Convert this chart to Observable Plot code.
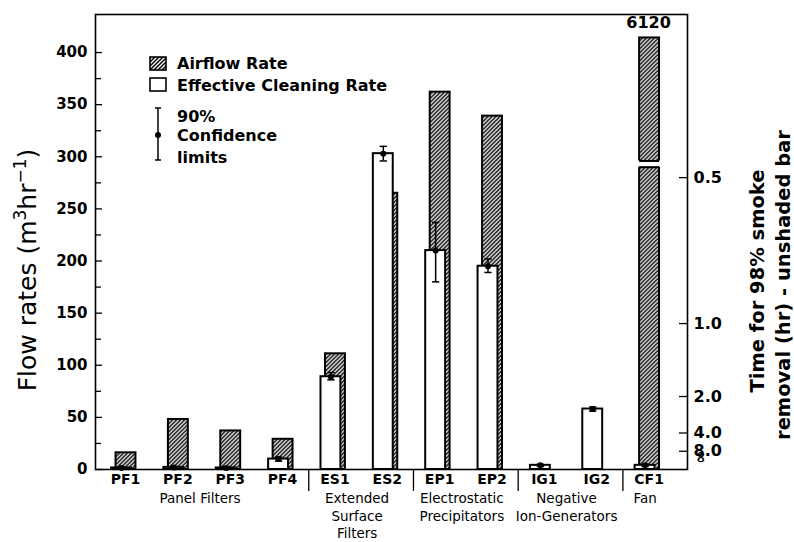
<!DOCTYPE html>
<html><head><meta charset="utf-8">
<script src="https://cdn.jsdelivr.net/npm/d3@7"></script>
<script src="https://cdn.jsdelivr.net/npm/@observablehq/plot@0.6"></script>
<style>
body{margin:0;background:#fff;}
#chart svg{display:block;}
</style></head><body><div id="chart"></div>
<script>
// ---- data ----
const categories = ["PF1","PF2","PF3","PF4","ES1","ES2","EP1","EP2","IG1","IG2","CF1"];
const airflowRate = [16, 48, 37, 29, 111, 265, 362, 339, 0, 0, 6120];
const cleaningRate = [1.5, 2, 1.5, 10, 89, 303, 210, 195, 4, 58, 4];
const ciLow = [0.5, 1, 0.5, 8, 86, 296, 180, 189, 3, 56, 3];
const ciHigh = [2.5, 3, 2.5, 12, 93, 310, 237, 202, 5, 60, 5];
const groupLabels = ["Panel Filters", "Extended\nSurface\nFilters", "Electrostatic\nPrecipitators", "Negative\nIon-Generators", "Fan"];
const groupFirst = [0, 4, 6, 8, 10];
const groupLast = [3, 5, 7, 9, 10];
const yTicks = [0, 50, 100, 150, 200, 250, 300, 350, 400];
const yMinorTicks = [25, 75, 125, 175, 225, 275, 325, 375];
const removalTimes = [0.5, 1, 2, 4, 8];      // hr, right axis
const removalConstant = 140;                // flow rate x time for 98% removal (m3)
const brokenAxisTop = 414;                  // value where the off-scale bar is cut
const breakLow = 290, breakHigh = 296;      // gap drawn in the off-scale bar

// ---- layout ----
const W = 794, H = 542;
const mL = 95, mR = 107, mT = 14, mB = 73;
const hw = 0.19;      // half bar width, in category units
const hatchShift = 4.5;
const FONT = "DejaVu Sans";

const rows = categories.map((c, i) => ({i, c, air: airflowRate[i], clean: cleaningRate[i], lo: ciLow[i], hi: ciHigh[i]}));
const groups = groupLabels.map((g, k) => ({g, mid: (groupFirst[k] + groupLast[k]) / 2}));
const separators = groupLast.slice(0, -1).map(i => i + 0.5);
const broken = rows.filter(d => d.air > brokenAxisTop);

const defs = () => {
  const g = d3.create("svg:defs");
  const p = g.append("pattern").attr("id", "hatch").attr("patternUnits", "userSpaceOnUse")
    .attr("width", 4).attr("height", 4);
  p.append("rect").attr("width", 4).attr("height", 4).attr("fill", "white");
  p.append("path").attr("d", "M-1,1 l2,-2 M0,4 l4,-4 M3,5 l2,-2")
    .attr("stroke", "black").attr("stroke-width", 1.5);
  return g.node();
};

const chart = Plot.plot({
  width: W, height: H,
  marginLeft: mL, marginRight: mR, marginTop: mT, marginBottom: mB,
  style: {fontFamily: FONT, background: "white", color: "black", overflow: "visible"},
  x: {type: "linear", domain: [-0.4966, 10.81]},
  y: {domain: [0, 436.5]},
  marks: [
    defs,
    // airflow (hatched) bars
    Plot.rect(rows.filter(d => d.air > 0), {
      x1: d => d.i - hw, x2: d => d.i + hw, y1: 0, y2: d => Math.min(d.air, brokenAxisTop),
      dx: hatchShift, fill: "url(#hatch)", stroke: "black", strokeWidth: 2
    }),
    // break in the off-scale bar
    Plot.rect(broken, {
      x1: d => d.i - hw - 0.06, x2: d => d.i + hw + 0.06, y1: breakLow, y2: breakHigh,
      dx: hatchShift, fill: "white"
    }),
    Plot.ruleY(broken.flatMap(d => [{i: d.i, y: breakLow}, {i: d.i, y: breakHigh}]), {
      y: "y", x1: d => d.i - hw, x2: d => d.i + hw, dx: hatchShift, strokeWidth: 2
    }),
    Plot.text(broken, {
      x: "i", y: brokenAxisTop, text: d => String(d.air), dx: hatchShift - 1, dy: -15,
      fontSize: 16, fontWeight: "bold"
    }),
    // effective cleaning (white) bars
    Plot.rect(rows, {
      x1: d => d.i - hw, x2: d => d.i + hw, y1: 0, y2: "clean",
      fill: "white", stroke: "black", strokeWidth: 2
    }),
    // 90% confidence limits
    Plot.ruleX(rows, {x: "i", y1: "lo", y2: "hi", strokeWidth: 1.5}),
    Plot.link(rows, {x1: d => d.i - 0.07, x2: d => d.i + 0.07, y1: "hi", y2: "hi", strokeWidth: 1.5}),
    Plot.link(rows, {x1: d => d.i - 0.07, x2: d => d.i + 0.07, y1: "lo", y2: "lo", strokeWidth: 1.5}),
    Plot.dot(rows, {x: "i", y: "clean", r: 3, fill: "black"}),
    // frame and ticks
    Plot.frame({strokeWidth: 1.6}),
    Plot.ruleY(yTicks, {y: d => d, insetRight: W - mL - mR - 7, strokeWidth: 1.3}),
    Plot.ruleY(yMinorTicks, {y: d => d, insetRight: W - mL - mR - 6, strokeWidth: 1.3}),
    Plot.axisY(yTicks, {anchor: "left", tickSize: 0, tickPadding: 8, fontSize: 15, fontWeight: "bold", label: null}),
    Plot.ruleY(removalTimes, {y: t => removalConstant / t, insetLeft: W - mL - mR - 8, strokeWidth: 1.3}),
    Plot.text(removalTimes, {
      y: t => removalConstant / t, text: t => t.toFixed(1), frameAnchor: "right", dx: 6,
      textAnchor: "start", fontSize: 16, fontWeight: "bold"
    }),
    Plot.text(["∞"], {y: 0, text: d => d, frameAnchor: "right", dx: 14, dy: -6, rotate: 90, fontSize: 16, fontWeight: "bold"}),
    // category axis
    Plot.axisX(rows.map(d => d.i), {
      anchor: "bottom", tickSize: 0, tickPadding: 5, dx: 4, tickFormat: i => categories[i],
      fontSize: 14, fontWeight: "bold", label: null
    }),
    Plot.ruleX(separators, {x: d => d, y1: 0, y2: -21, dx: 4, strokeWidth: 1.3}),
    Plot.text(groups, {
      x: "mid", text: "g", frameAnchor: "bottom", dy: 21, lineAnchor: "top",
      lineHeight: 1.3, fontSize: 13.5
    })
  ]
});

const svg = d3.select(chart);
// legend
const lg = svg.append("g").attr("font-family", FONT).attr("font-weight", "bold").attr("font-size", 16)
  .attr("text-anchor", "start");
lg.append("rect").attr("x", 150).attr("y", 57).attr("width", 16).attr("height", 13)
  .attr("fill", "url(#hatch)").attr("stroke", "black").attr("stroke-width", 1.6);
lg.append("text").attr("x", 177).attr("y", 63.5).attr("dy", "0.35em").text("Airflow Rate");
lg.append("rect").attr("x", 150).attr("y", 78).attr("width", 16).attr("height", 13)
  .attr("fill", "white").attr("stroke", "black").attr("stroke-width", 1.6);
lg.append("text").attr("x", 177).attr("y", 85).attr("dy", "0.35em").text("Effective Cleaning Rate");
lg.append("line").attr("x1", 158).attr("x2", 158).attr("y1", 108).attr("y2", 160).attr("stroke", "black").attr("stroke-width", 1.5);
lg.append("line").attr("x1", 155).attr("x2", 161).attr("y1", 108).attr("y2", 108).attr("stroke", "black").attr("stroke-width", 1.5);
lg.append("line").attr("x1", 155).attr("x2", 161).attr("y1", 160).attr("y2", 160).attr("stroke", "black").attr("stroke-width", 1.5);
lg.append("circle").attr("cx", 158).attr("cy", 135).attr("r", 3).attr("fill", "black");
[["90%", 116], ["Confidence", 135], ["limits", 157]].forEach(([t, y]) =>
  lg.append("text").attr("x", 177).attr("y", y).attr("dy", "0.35em").text(t));

// left axis title
const lt = svg.append("text").attr("font-family", FONT).attr("font-size", 25)
  .attr("text-anchor", "middle").attr("transform", "translate(27,270) rotate(-90)").attr("dy", "0.35em");
lt.append("tspan").text("Flow rates (m");
lt.append("tspan").attr("baseline-shift", "super").attr("font-size", 17).text("3");
lt.append("tspan").text("hr");
lt.append("tspan").attr("baseline-shift", "super").attr("font-size", 17).text("−1");
lt.append("tspan").text(")");

// right axis title
const rt = svg.append("g").attr("font-family", FONT).attr("font-size", 19.5).attr("font-weight", "bold").attr("text-anchor", "middle");
rt.append("text").attr("transform", "translate(757,281) rotate(-90)").attr("dy", "0.35em").text("Time for 98% smoke");
rt.append("text").attr("transform", "translate(783,285) rotate(-90)").attr("dy", "0.35em").text("removal (hr) - unshaded bar");

document.getElementById("chart").appendChild(chart);
</script>
</body></html>
